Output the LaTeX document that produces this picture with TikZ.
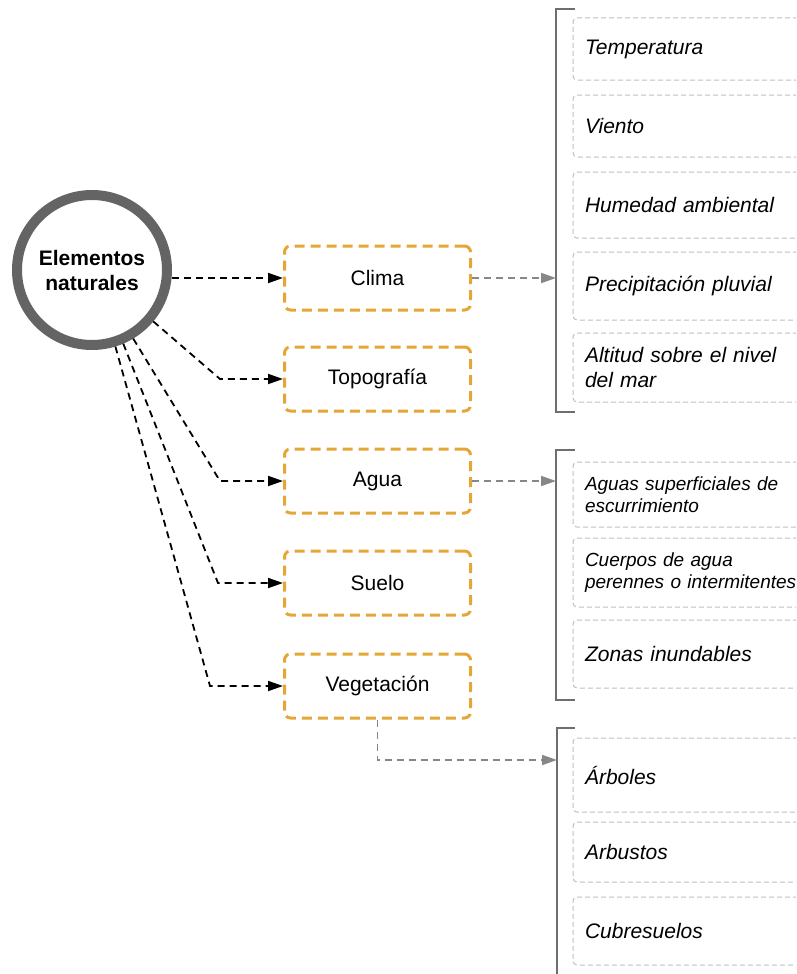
\documentclass[tikz,border=0pt]{standalone}
\usepackage{fontspec}
\setmainfont{Liberation Sans}
\usetikzlibrary{arrows.meta}
\definecolor{orng}{RGB}{228,166,52}
\definecolor{ringgray}{RGB}{100,100,100}
\definecolor{brgray}{RGB}{110,110,110}
\definecolor{arrgray}{RGB}{135,135,135}
\definecolor{itemgray}{RGB}{190,190,190}
\tikzset{
  ring/.style={circle, draw=ringgray, line width=10pt, minimum size=150pt, align=center,
    font=\bfseries\fontsize{21}{25}\selectfont},
  cat/.style={draw=orng, line width=3pt, dash pattern=on 10pt off 6pt, rounded corners=6pt,
    minimum width=186pt, minimum height=64pt, font=\fontsize{21}{25}\selectfont},
  item/.style={draw=itemgray, line width=1pt, dash pattern=on 5pt off 3pt, rounded corners=4pt,
    minimum width=237pt, text width=213pt, inner xsep=12pt, align=left,
    font=\itshape\fontsize{21}{25}\selectfont},
  smallitem/.style={item, font=\itshape\fontsize{19}{22}\selectfont},
  blackarrow/.style={draw=black, line width=1.8pt, dash pattern=on 7pt off 5pt,
    -{Triangle[length=15pt,width=10pt]}},
  grayarrow/.style={draw=arrgray, line width=1.8pt, dash pattern=on 7pt off 5pt,
    -{Triangle[length=15pt,width=10pt]}},
  bracketline/.style={draw=brgray, line width=2pt}
}
\begin{document}
\begin{tikzpicture}[x=1pt,y=-1pt]
\useasboundingbox (0,0) rectangle (796,974);
\clip (0,0) rectangle (796,974);

% central circle
\node[ring] (en) at (92,270) {Elementos\\naturales};

% category boxes
\node[cat] (clima) at (377.5,278) {Clima};
\node[cat] (topo) at (377.5,379) {Topografía};
\node[cat] (agua) at (377.5,481) {Agua};
\node[cat] (suelo) at (377.5,583) {Suelo};
\node[cat] (veg) at (377.5,686) {Vegetación};

% bends
\coordinate (k2) at (220,379);
\coordinate (k3) at (220,481);
\coordinate (k4) at (218,583);
\coordinate (k5) at (210,686);

\draw[blackarrow] (clima.west -| en.east) -- (clima.west);
\draw[blackarrow] (en.-40) -- (k2) -- (topo.west);
\draw[blackarrow] (en.-59) -- (k3) -- (agua.west);
\draw[blackarrow] (en.-67) -- (k4) -- (suelo.west);
\draw[blackarrow] (en.-73) -- (k5) -- (veg.west);

% brackets
\coordinate (b1t) at (556,9);  \coordinate (b1b) at (556,412);
\coordinate (b2t) at (556,450); \coordinate (b2b) at (556,700);
\coordinate (b3t) at (557,728); \coordinate (b3b) at (557,990);
\draw[bracketline] (575,9) -- (b1t) -- (b1b) -- (575,412);
\draw[bracketline] (575,450) -- (b2t) -- (b2b) -- (575,700);
\draw[bracketline] (575,728) -- (b3t) -- (b3b);

\coordinate (b1) at (556,278);
\coordinate (b2) at (556,481);
\coordinate (b3) at (557,760);
\coordinate (vk) at (377.5,760);

\draw[grayarrow] (clima.east) -- (b1);
\draw[grayarrow] (agua.east) -- (b2);
\draw[grayarrow] (veg.south) -- (vk) -- (b3);

% items group 1
\node[item, minimum height=62pt] (t1) at (691.5,49) {Temperatura};
\node[item, minimum height=62pt] (t2) at (691.5,126) {Viento};
\node[item, minimum height=66pt] (t3) at (691.5,205) {Humedad ambiental};
\node[item, minimum height=68pt] (t4) at (691.5,286) {Precipitación pluvial};
\node[item, minimum height=69pt] (t5) at (691.5,367.5) {Altitud sobre el nivel\\del mar};

% items group 2
\node[smallitem, minimum height=65pt] (a1) at (691.5,494.5) {Aguas superficiales de\\escurrimiento};
\node[smallitem, minimum height=69pt] (a2) at (691.5,572.5) {Cuerpos de agua\\perennes o intermitentes};
\node[item, minimum height=68pt] (a3) at (691.5,654) {Zonas inundables};

% items group 3
\node[item, minimum height=74pt] (v1) at (691.5,775) {Árboles};
\node[item, minimum height=60pt] (v2) at (691.5,852) {Arbustos};
\node[item, minimum height=68pt] (v3) at (691.5,931) {Cubresuelos};
\end{tikzpicture}
\end{document}
